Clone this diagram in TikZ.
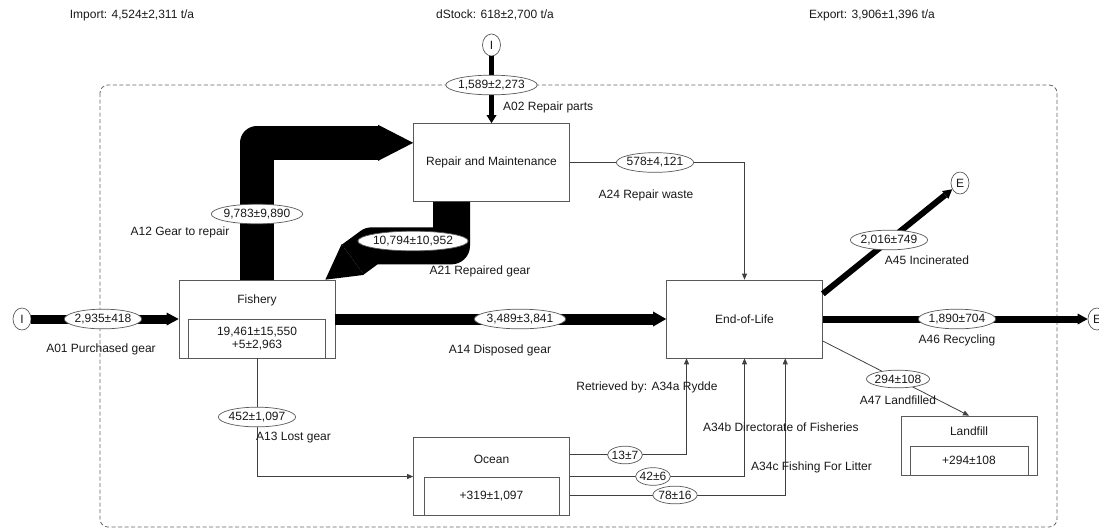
\documentclass[tikz,border=0pt]{standalone}
\usepackage{fontspec}
\setmainfont{Liberation Sans}
\usetikzlibrary{shapes.geometric, arrows.meta, positioning, calc}

\begin{document}
\begin{tikzpicture}[
    x=1pt, y=-1pt,
    font=\fontsize{12}{12.5}\selectfont, text=black!90,
    proc/.style={rectangle, draw=black!65, line width=0.7pt, minimum width=156pt, minimum height=78pt, inner sep=0pt},
    stockbox/.style={rectangle, draw=black!65, line width=0.7pt, minimum width=137pt, minimum height=39pt, align=center, inner sep=0pt},
    term/.style={ellipse, draw=black!65, line width=0.7pt, minimum width=18pt, minimum height=22pt, inner sep=0pt},
    flowval/.style={ellipse, draw=black!65, line width=0.7pt, fill=white, inner xsep=-1pt, inner ysep=2pt},
    flowtxt/.style={inner sep=0pt},
    thinflow/.style={draw=black!75, line width=0.8pt, -{Triangle[length=6pt, width=5pt]}},
    band/.style={draw=black, line join=round}
]
    \useasboundingbox (0,0) rectangle (1099,531);

    % System boundary
    \draw[black!60, line width=0.8pt, dash pattern=on 4pt off 2.5pt, rounded corners=8pt] (100,85) rectangle (1057,527);

    % Totals
    \node (import) at (132,15) {Import: 4,524±2,311 t/a};
    \node (dstock) at (495,15) {dStock: 618±2,700 t/a};
    \node (export) at (872,15) {Export: 3,906±1,396 t/a};

    % Processes
    \node[proc] (repair) at (491.5,162.5) {Repair and Maintenance};
    \node[proc] (fishery) at (257,319) {};
    \node (fisherytitle) at ($(fishery.north)+(0,21)$) {Fishery};
    \node[stockbox, anchor=south] (fisherystock) at (fishery.south) {19,461±15,550\\+5±2,963};
    \node[proc] (eol) at (744.5,319) {End-of-Life};
    \node[proc] (ocean) at (491.5,476.5) {};
    \node (oceantitle) at ($(ocean.north)+(0,22)$) {Ocean};
    \node[stockbox, anchor=south, minimum width=135pt, minimum height=38pt] (oceanstock) at (ocean.south) {+319±1,097};
    \node[proc, minimum width=136pt, minimum height=59pt] (landfill) at (969,445.5) {};
    \node (landfilltitle) at ($(landfill.north)+(0,16)$) {Landfill};
    \node[stockbox, anchor=south, minimum width=118pt, minimum height=29pt] (landfillstock) at (landfill.south) {+294±108};

    % Import / export terminals
    \node[term] (inA02) at (491.5,45) {I};
    \node[term] (inA01) at (22,319) {I};
    \node[term] (outA45) at (960,183) {E};
    \node[term] (outA46) at (1097,319) {E};

    % Flows
    \draw[band, line width=5pt, -{Triangle[length=8pt, width=10pt, line width=0pt]}] (inA02) -- (repair);
    \draw[band, line width=9pt, -{Triangle[length=12pt, width=13pt, line width=0pt]}] (inA01) -- (fishery);
    \draw[band, line width=34pt, -{Triangle[length=35pt, width=36pt, line width=0pt]}]
        (fishery.north) |- ($(repair.west)!0.5!(repair.north west)$);
    \draw[band, line width=37pt, -{Triangle[length=34pt, width=38pt, line width=0pt]}]
        ($(repair.south)+(-40,0)$) -- ++(0,44) -- ++(-80,0) -- ($(fishery.north east)+(-10,0)$);
    \draw[band, line width=11pt, -{Triangle[length=13pt, width=15pt, line width=0pt]}] (fishery) -- (eol);
    \draw[band, line width=6pt, -{Triangle[length=9pt, width=10pt, line width=0pt]}]
        ($(eol.north east)!0.18!(eol.south east)$) -- (outA45);
    \draw[band, line width=7pt, -{Triangle[length=10pt, width=11pt, line width=0pt]}] (eol) -- (outA46);
    \draw[thinflow] (repair.east) -| (eol.north);
    \draw[thinflow] ($(eol.north east)!0.78!(eol.south east)$) -- (landfill.north);
    \draw[thinflow] (fishery.south) |- (ocean.west);
    \draw[thinflow] ($(ocean.north east)!0.22!(ocean.south east)$) -| ($(eol.south west)!0.13!(eol.south east)$);
    \draw[thinflow] (ocean.east) -| (eol.south);
    \draw[thinflow] ($(ocean.north east)!0.74!(ocean.south east)$) -| ($(eol.south west)!0.76!(eol.south east)$);

    % Flow values
    \node[flowval] (vA02) at (491.5,85) {1,589±2,273};
    \node[flowval] (vA12) at (257,214) {9,783±9,890};
    \node[flowval] (vA21) at (413,241) {10,794±10,952};
    \node[flowval] (vA24) at (655,162.5) {578±4,121};
    \node[flowval] (vA01) at (103,319) {2,935±418};
    \node[flowval] (vA14) at (520,319) {3,489±3,841};
    \node[flowval] (vA45) at (889,240) {2,016±749};
    \node[flowval] (vA46) at (957,319) {1,890±704};
    \node[flowval] (vA47) at (898,379) {294±108};
    \node[flowval] (vA13) at (257,417) {452±1,097};
    \node[flowval] (vA34a) at (625,455) {13±7};
    \node[flowval] (vA34b) at (653,476.5) {42±6};
    \node[flowval] (vA34c) at (675,495) {78±16};

    % Flow names
    \node[flowtxt, anchor=west] (tA02) at (503,107) {A02 Repair parts};
    \node[flowtxt] (tA12) at (180,232) {A12 Gear to repair};
    \node[flowtxt] (tA21) at (480,271) {A21 Repaired gear};
    \node[flowtxt] (tA24) at (646,195) {A24 Repair waste};
    \node[flowtxt] (tA01) at (101,349) {A01 Purchased gear};
    \node[flowtxt] (tA14) at (500,350) {A14 Disposed gear};
    \node[flowtxt] (tA45) at (927,260) {A45 Incinerated};
    \node[flowtxt] (tA46) at (957,340) {A46 Recycling};
    \node[flowtxt] (tA47) at (898,400) {A47 Landfilled};
    \node[flowtxt, anchor=west] (tA13) at (256,438) {A13 Lost gear};
    \node[flowtxt] (tA34a) at (647,387) {Retrieved by: A34a Rydde};
    \node[flowtxt, anchor=west] (tA34b) at (703,427) {A34b Directorate of Fisheries};
    \node[flowtxt, anchor=west] (tA34c) at (751,467) {A34c Fishing For Litter};
\end{tikzpicture}
\end{document}
